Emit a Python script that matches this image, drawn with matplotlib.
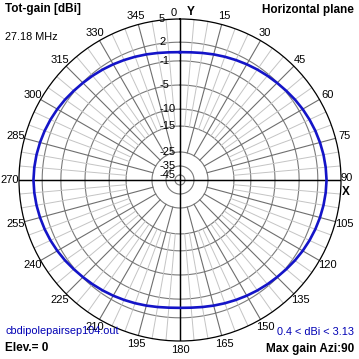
import numpy as np
import matplotlib
matplotlib.use("Agg")
import matplotlib.pyplot as plt
from matplotlib.transforms import offset_copy

plt.rcParams['font.family'] = ['Liberation Sans', 'DejaVu Sans']

# azimuth (deg, compass) and total gain (dBi)
azimuth = list(range(0, 361, 5))
gain = [0.40, 0.45, 0.58, 0.75, 0.93, 1.12, 1.32, 1.52, 1.72, 1.92,
        2.12, 2.32, 2.50, 2.66, 2.80, 2.92, 3.02, 3.09, 3.13,
        3.09, 3.02, 2.92, 2.80, 2.66, 2.50, 2.32, 2.12, 1.92, 1.72,
        1.52, 1.32, 1.12, 0.93, 0.75, 0.58, 0.45, 0.40,
        0.45, 0.58, 0.75, 0.93, 1.12, 1.32, 1.52, 1.72, 1.92,
        2.12, 2.32, 2.50, 2.66, 2.80, 2.92, 3.02, 3.09, 3.13,
        3.09, 3.02, 2.92, 2.80, 2.66, 2.50, 2.32, 2.12, 1.92, 1.72,
        1.52, 1.32, 1.12, 0.93, 0.75, 0.58, 0.45, 0.40]

# ring levels (dBi) and their position on the log scale (fraction of radius)
ring_db = [5, 2, -1, -5, -10, -15, -25, -35, -45]
ring_frac = [1.0, 0.856, 0.74, 0.59, 0.44, 0.335, 0.174, 0.087, 0.031]
az_labels = list(range(0, 360, 15))


def to_r(db):
    # np.interp needs increasing x
    return np.interp(db, ring_db[::-1], ring_frac[::-1])


W = 359
fig = plt.figure(figsize=(W / 100, W / 100), dpi=100)
cx, cy, R = 180, 180, 161
ax = fig.add_axes([(cx - R) / W, (W - cy - R) / W, 2 * R / W, 2 * R / W],
                  projection='polar')
ax.set_theta_zero_location('N')
ax.set_theta_direction(-1)
ax.set_ylim(0, 1)
ax.set_xticks([])
ax.set_yticks([])
ax.grid(False)
ax.spines['polar'].set_color('black')
ax.spines['polar'].set_linewidth(0.9)

full = np.linspace(0, 2 * np.pi, 361)
# rings
for db, fr in zip(ring_db[1:], ring_frac[1:]):
    ax.plot(full, np.full_like(full, fr), color='#7a7a7a', lw=0.8)

# spokes
for a in range(0, 360, 5):
    th = np.deg2rad(a)
    if a % 90 == 0:
        continue
    if a % 15 == 0:
        ax.plot([th, th], [to_r(-25), 1], color='#6e6e6e', lw=0.8)
    else:
        ax.plot([th, th], [to_r(-15), 1], color='#c4c4c4', lw=0.7)
for a in (0, 90):
    th = np.deg2rad(a)
    ax.plot([th, th + np.pi], [1, 1], color='black', lw=0.9)
    ax.plot([th, th], [0, 1], color='black', lw=0.9)
    ax.plot([th + np.pi, th + np.pi], [0, 1], color='black', lw=0.9)

# pattern
ax.plot(np.deg2rad(azimuth), to_r(np.array(gain)), color='#1414c8', lw=1.9)

# radial labels
tr = offset_copy(ax.transData, fig=fig, x=-21, y=0, units='dots')
for db, fr in zip(ring_db, ring_frac):
    ax.text(0, fr, str(db), transform=tr, ha='left', va='center',
            fontsize=8, clip_on=False)

# azimuth labels
for a in az_labels:
    if a in (0, 90):
        continue
    ax.text(np.deg2rad(a), 1.055, str(a), ha='center', va='center',
            fontsize=8, clip_on=False)


def px(x, y, s, **kw):
    fig.text(x / W, 1 - y / W, s, **kw)


px(174, 13, '0', ha='center', va='center', fontsize=8)
px(191, 12, 'Y', ha='center', va='center', fontsize=8.5, fontweight='bold')
px(347, 178, '90', ha='center', va='center', fontsize=8)
px(346, 192, 'X', ha='center', va='center', fontsize=8.5, fontweight='bold')

px(5, 9, 'Tot-gain [dBi]', ha='left', va='center', fontsize=8.5, fontweight='bold')
px(354, 10, 'Horizontal plane', ha='right', va='center', fontsize=8.5, fontweight='bold')
px(5, 37, '27.18 MHz', ha='left', va='center', fontsize=7.8)
px(5, 331, 'cbdipolepairsep104.out', ha='left', va='center', fontsize=7.8, color='#0000b4')
px(5, 348, 'Elev.= 0', ha='left', va='center', fontsize=8.5, fontweight='bold')
px(354, 332, '0.4 < dBi < 3.13', ha='right', va='center', fontsize=7.8, color='#0000b4')
px(354, 349, 'Max gain Azi:90', ha='right', va='center', fontsize=8.5, fontweight='bold')

fig.savefig('out.png', dpi=100)
